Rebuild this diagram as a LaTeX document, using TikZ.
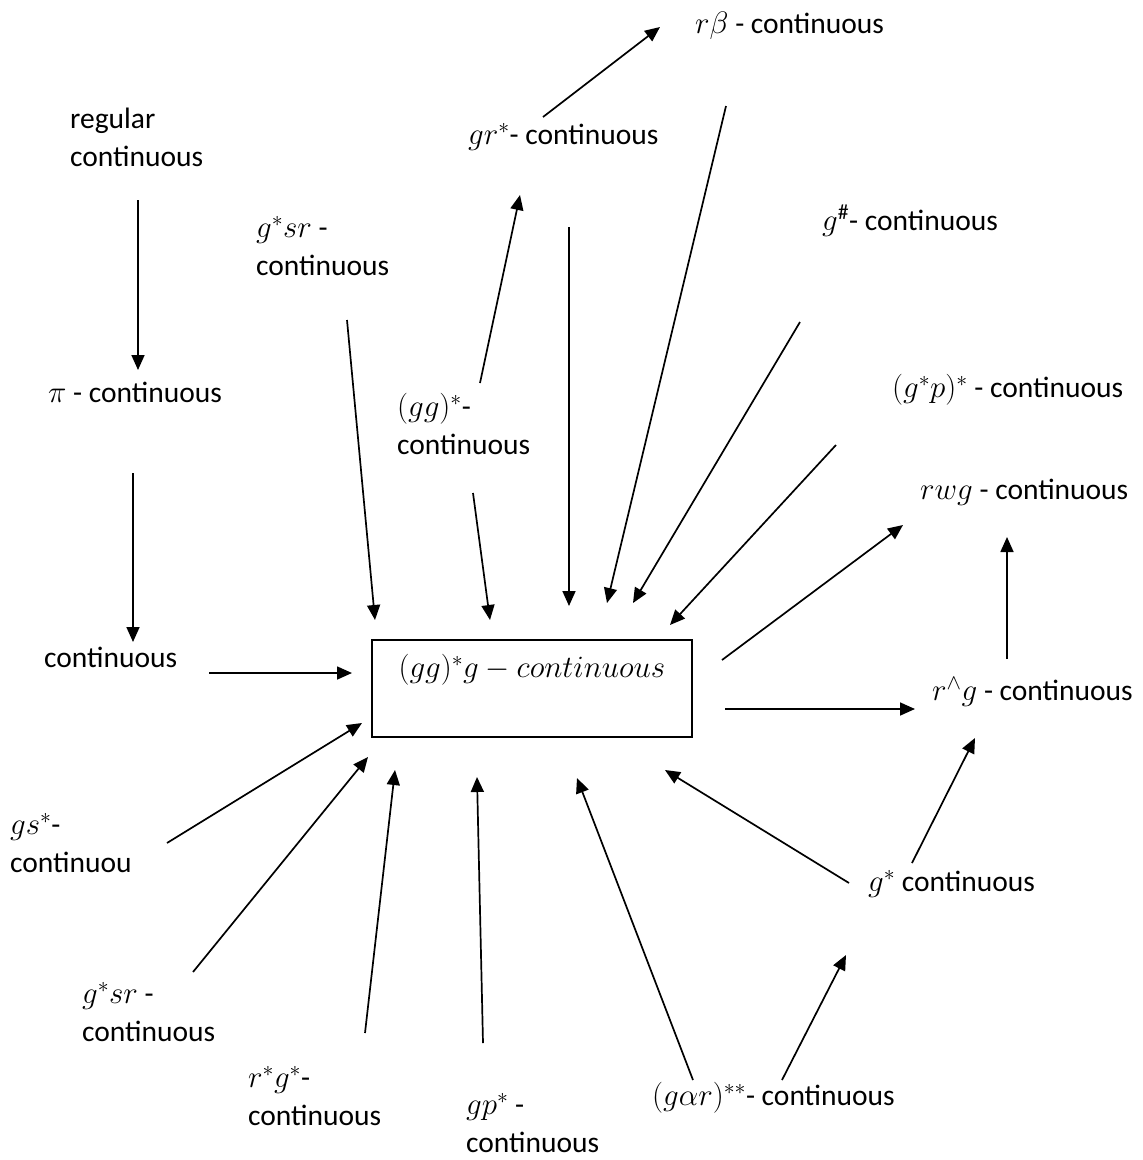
\RequirePackage{fix-cm}
\documentclass[tikz,border=0pt]{standalone}
\usepackage{fontspec}
\setmainfont{Carlito}
\usetikzlibrary{arrows.meta}
\newcommand\mymath[1]{{\fontsize{31}{38}\selectfont$#1$}}
\begin{document}
\begin{tikzpicture}[x=1pt,y=-1pt,
  lbl/.style={anchor=west,inner sep=0pt,align=left,font=\fontsize{29.5}{38}\selectfont},
  arr/.style={-{Triangle[length=15pt,width=13pt]},line width=1.7pt}]
\useasboundingbox (0,0) rectangle (1143,1160);
% central box
\node[draw,line width=1.8pt,minimum width=320pt,minimum height=97pt,inner sep=0pt] (box) at (532,688.5) {};
\node[inner sep=0pt] (boxtxt) at (532,670) {\mymath{(gg)^{*}g - continuous}};
% labels
\node[lbl] (reg) at (70,137) {regular\\continuous};
\node[lbl] (pi) at (48,392) {\mymath{\pi} - continuous};
\node[lbl] (cont) at (44,657) {continuous};
\node[lbl] (gsrtop) at (256,246) {\mymath{g^{*}sr} -\\continuous};
\node[lbl] (ggs) at (397,424) {\mymath{(gg)^{*}}-\\continuous};
\node[lbl] (grs) at (468,137) {\mymath{gr^{*}}- continuous};
\node[lbl] (rb) at (695,26) {\mymath{r\beta} - continuous};
\node[lbl] (gh) at (822,221) {\mymath{g^{\#}}- continuous};
\node[lbl] (gpp) at (892,390) {\mymath{(g^{*}p)^{*}} - continuous};
\node[lbl] (rwg) at (920,492) {\mymath{rwg} - continuous};
\node[lbl] (rwedge) at (932,692) {\mymath{r^{\wedge}g} - continuous};
\node[lbl] (gstar) at (868,884) {\mymath{g^{*}} continuous};
\node[lbl] (gar) at (652,1098) {\mymath{(g\alpha r)^{**}}- continuous};
\node[lbl] (gps) at (466,1123) {\mymath{gp^{*}} -\\continuous};
\node[lbl] (rsgs) at (248,1096) {\mymath{r^{*}g^{*}}-\\continuous};
\node[lbl] (gsrbot) at (82,1012) {\mymath{g^{*}sr} -\\continuous};
\node[lbl] (gss) at (10,843) {\mymath{gs^{*}}-\\continuou};
% connector end points
\coordinate (a1) at (138,200);  \coordinate (b1) at (138,370);
\coordinate (a2) at (133,473);  \coordinate (b2) at (133,642);
\coordinate (a3) at (209,673);  \coordinate (b3) at (352,673);
\coordinate (a4) at (347,320);  \coordinate (b4) at (375,620);
\coordinate (a5) at (480,383);  \coordinate (b5) at (520,195);
\coordinate (a6) at (473,493);  \coordinate (b6) at (490,620);
\coordinate (a7) at (543,117);  \coordinate (b7) at (660,27);
\coordinate (a8) at (569,227);  \coordinate (b8) at (569,606);
\coordinate (a9) at (726,106);  \coordinate (b9) at (607,603);
\coordinate (a10) at (800,322); \coordinate (b10) at (633,603);
\coordinate (a11) at (836,445); \coordinate (b11) at (670,625);
\coordinate (a12) at (722,660); \coordinate (b12) at (903,525);
\coordinate (a13) at (1007,659);\coordinate (b13) at (1007,537);
\coordinate (a14) at (725,709); \coordinate (b14) at (915,709);
\coordinate (a15) at (912,863); \coordinate (b15) at (975,738);
\coordinate (a16) at (849,883); \coordinate (b16) at (665,770);
\coordinate (a17) at (693,1080);\coordinate (b17) at (577,778);
\coordinate (a18) at (782,1080);\coordinate (b18) at (846,955);
\coordinate (a19) at (483,1043);\coordinate (b19) at (477,777);
\coordinate (a20) at (365,1033);\coordinate (b20) at (395,770);
\coordinate (a21) at (193,972); \coordinate (b21) at (368,757);
\coordinate (a22) at (167,843); \coordinate (b22) at (362,723);
% connectors
\foreach \i in {1,...,22} {\draw[arr] (a\i) -- (b\i);}
\end{tikzpicture}
\end{document}
